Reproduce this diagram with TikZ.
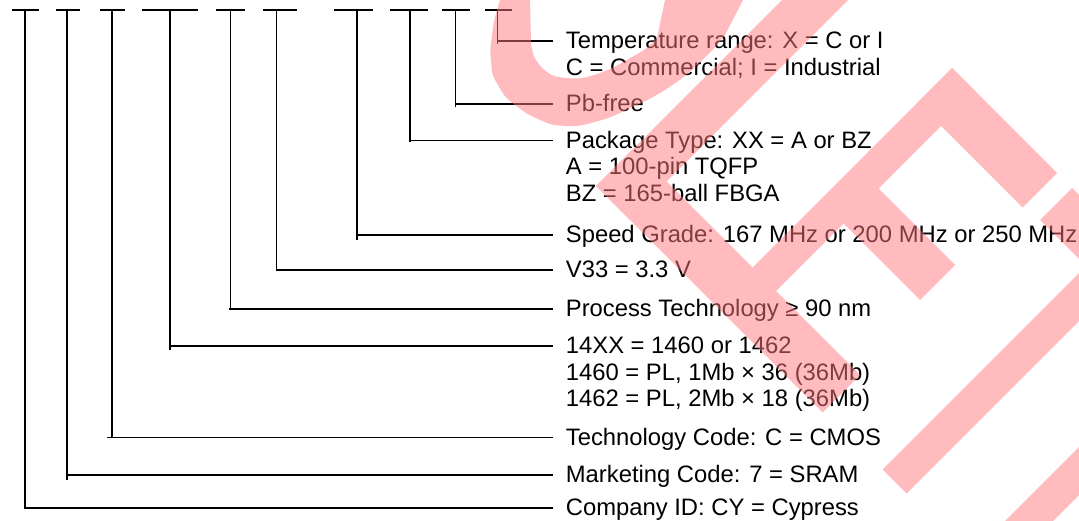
\documentclass[tikz,border=0pt]{standalone}
\usepackage{fontspec}
\setmainfont{Liberation Sans}
\definecolor{wmpink}{RGB}{255,120,125}
\begin{document}
\begin{tikzpicture}[x=0.5pt,y=-0.5pt,
  conn/.style={line width=0.75pt, line cap=butt},
  lab/.style={anchor=base west, inner sep=0pt, font=\fontsize{11.9}{13.25}\selectfont},
  wm/.style={fill=wmpink}]
\useasboundingbox (0,0) rectangle (1079,520);

% tops of the part-number blanks
\coordinate (t1) at (24.8,10);
\coordinate (t2) at (66.8,10);
\coordinate (t3) at (111.9,10);
\coordinate (t4) at (169.8,10);
\coordinate (t5) at (230.7,10);
\coordinate (t6) at (276.5,10);
\coordinate (t7) at (357.1,10);
\coordinate (t8) at (409.8,10);
\coordinate (t9) at (455.6,10);
\coordinate (t10) at (497.6,10);

% ends of the connectors
\coordinate (e1) at (552.7,508);
\coordinate (e2) at (552.7,475);
\coordinate (e3) at (552.7,437.7);
\coordinate (e4) at (552.7,346);
\coordinate (e5) at (552.7,309);
\coordinate (e6) at (552.7,270);
\coordinate (e7) at (552.7,235);
\coordinate (e8) at (552.7,140.7);
\coordinate (e9) at (552.7,104);
\coordinate (e10) at (552.7,41);

% blanks
\draw[conn] (12,10) -- (38.6,10);
\draw[conn] (56.1,10) -- (79.9,10);
\draw[conn] (99.9,10) -- (125,10);
\draw[conn] (141.9,10) -- (198,10);
\draw[conn] (215.9,10) -- (245.2,10);
\draw[conn] (263.1,10) -- (296.8,10);
\draw[conn] (334,10) -- (372.9,10);
\draw[conn] (389.8,10) -- (427.7,10);
\draw[conn] (441.8,10) -- (470,10);
\draw[conn] (484.8,10) -- (512,10);

% connectors
\draw[conn] (t1) |- (e1);  \draw[conn] (t1|-e1) -- ++(0,1.4);
\draw[conn] (t2) |- (e2);  \draw[conn] (t2|-e2) -- ++(0,4.5);
\draw[conn] (t3) |- (e3);  \draw[conn] (t3|-e3) -- ++(-4.5,0);
\draw[conn] (t4) |- (e4);  \draw[conn] (t4|-e4) -- ++(0,3.8);
\draw[conn] (t5) |- (e5);  \draw[conn] (t5|-e5) -- ++(-1.7,0);
\draw[conn] (t6) |- (e6);
\draw[conn] (t7) |- (e7);  \draw[conn] (t7|-e7) -- ++(0,4.8);
\draw[conn] (t8) |- (e8);  \draw[conn] (t8|-e8) -- ++(0,1.4);
\draw[conn] (t9) |- (e9);  \draw[conn] (t9|-e9) -- ++(0,3.4);
\draw[conn] (t10) |- (e10); \draw[conn] (t10|-e10) -- ++(0,2.6);

% labels
\node[lab] (l10) at (565.5,48.5) {\begin{tabular}[t]{@{}l@{}}Temperature range: X = C or I\\C = Commercial; I = Industrial\end{tabular}};
\node[lab] (l9) at (565.5,111.5) {Pb-free};
\node[lab] (l8) at (565.5,148.2) {\begin{tabular}[t]{@{}l@{}}Package Type: XX = A or BZ\\A = 100-pin TQFP\\BZ = 165-ball FBGA\end{tabular}};
\node[lab] (l7) at (565.5,242.5) {Speed Grade: 167 MHz or 200 MHz or 250 MHz};
\node[lab] (l6) at (565.5,277.5) {V33 = 3.3 V};
\node[lab] (l5) at (565.5,316.5) {Process Technology ≥ 90 nm};
\node[lab] (l4) at (565.5,353.5) {\begin{tabular}[t]{@{}l@{}}14XX = 1460 or 1462\\1460 = PL, 1Mb × 36 (36Mb)\\1462 = PL, 2Mb × 18 (36Mb)\end{tabular}};
\node[lab] (l3) at (565.5,445.2) {Technology Code: C = CMOS};
\node[lab] (l2) at (565.5,482.5) {Marketing Code: 7 = SRAM};
\node[lab] (l1) at (565.5,515.5) {Company ID: CY = Cypress};

% watermark
\begin{scope}[transparency group, opacity=0.5]
\clip (0,0) rectangle (1079,520);
% round stroke
\fill[wm] (500,-5) -- (500,0) .. controls (494,20) .. (492,35) .. controls (490,50) .. (491,60)
  .. controls (492,75) .. (498,85) .. controls (505,97) .. (515,105) .. controls (527,114) .. (540,120)
  .. controls (552,125) .. (565,126) .. controls (580,126) .. (595,122) .. controls (612,117) .. (630,108)
  .. controls (648,100) .. (665,90) .. controls (683,78) .. (700,62) .. controls (713,50) .. (725,35)
  -- (743,0) -- (748,-5) -- (668,-5) -- (665,0) -- (657,38) .. controls (645,50) .. (630,58)
  .. controls (615,67) .. (600,73) .. controls (582,79) .. (565,78) .. controls (552,76) .. (542,68)
  .. controls (534,58) .. (531,45) -- (530,0) -- (530,-5) -- cycle;
% straight strokes
\fill[wm] (596,186) -- (841,-59) -- (874,-26) -- (629,219) -- cycle;
\fill[wm] (596,186) -- (633.5,148.5) -- (860,375) -- (822.5,412.5) -- cycle;
\fill[wm] (745,275) -- (952,68) -- (975.5,91.5) -- (768.5,298.5) -- cycle;
\fill[wm] (917.5,102.5) -- (952,68) -- (1057,173) -- (1022.5,207.5) -- cycle;
\fill[wm] (830,210) -- (865,175) -- (955,265) -- (920,300) -- cycle;
\fill[wm] (1040,220) -- (1072,188) -- (1152,268) -- (1120,300) -- cycle;
\fill[wm] (882.5,469.5) -- (1326,26) -- (1350,50) -- (906.5,493.5) -- cycle;
\fill[wm] (913,613) -- (1413,113) -- (1437,137) -- (937,637) -- cycle;
\end{scope}
\end{tikzpicture}
\end{document}
